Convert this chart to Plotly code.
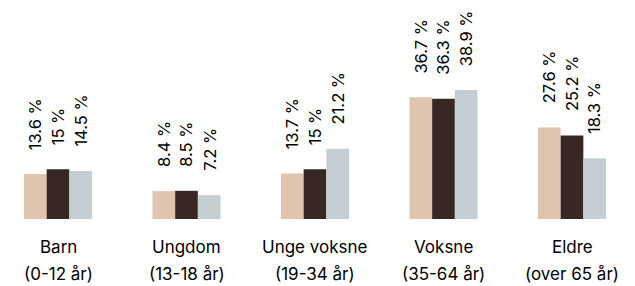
import plotly.graph_objects as go

categories = ["Barn", "Ungdom", "Unge voksne", "Voksne", "Eldre"]
age_ranges = ["(0-12 år)", "(13-18 år)", "(19-34 år)", "(35-64 år)", "(over 65 år)"]
series_a = [13.6, 8.4, 13.7, 36.7, 27.6]
series_b = [15, 8.5, 15, 36.3, 25.2]
series_c = [14.5, 7.2, 21.2, 38.9, 18.3]
colors = ["#dfc4b0", "#382824", "#c5ced3"]

FONT = "Inter, Noto Sans, sans-serif"
bargap = 0.47
barw = (1 - bargap) / 3

fig = go.Figure()
xs = list(range(len(categories)))
for vals, col in zip([series_a, series_b, series_c], colors):
    fig.add_trace(go.Bar(x=xs, y=vals, marker=dict(color=col, line=dict(width=0)),
                         hoverinfo="skip", showlegend=False))

annotations = []
for k, vals in enumerate([series_a, series_b, series_c]):
    for i, v in enumerate(vals):
        annotations.append(dict(
            x=i + (k - 1) * barw, y=v, xref="x", yref="y",
            text=f"{v:g} %", textangle=-90, showarrow=False,
            xanchor="center", yanchor="bottom", yshift=22,
            font=dict(family=FONT, size=16.5, color="#000000")))
for i, (name, age) in enumerate(zip(categories, age_ranges)):
    annotations.append(dict(x=i, y=0, xref="x", yref="paper", text=name,
                            showarrow=False, yanchor="middle", yshift=-28,
                            font=dict(family=FONT, size=17, color="#000000")))
    annotations.append(dict(x=i, y=0, xref="x", yref="paper", text=age,
                            showarrow=False, yanchor="middle", yshift=-55,
                            font=dict(family=FONT, size=17, color="#000000")))

fig.update_layout(
    width=627, height=278,
    margin=dict(l=0, r=0, t=0, b=67),
    barmode="group", bargap=bargap, bargroupgap=0,
    plot_bgcolor="white", paper_bgcolor="white",
    xaxis=dict(range=[-0.3891, 4.4903], showticklabels=False, showgrid=False,
               zeroline=False, showline=False, fixedrange=True),
    yaxis=dict(range=[0, 63.63], visible=False, showgrid=False, zeroline=False),
    annotations=annotations,
)
fig.write_html("out.html")
